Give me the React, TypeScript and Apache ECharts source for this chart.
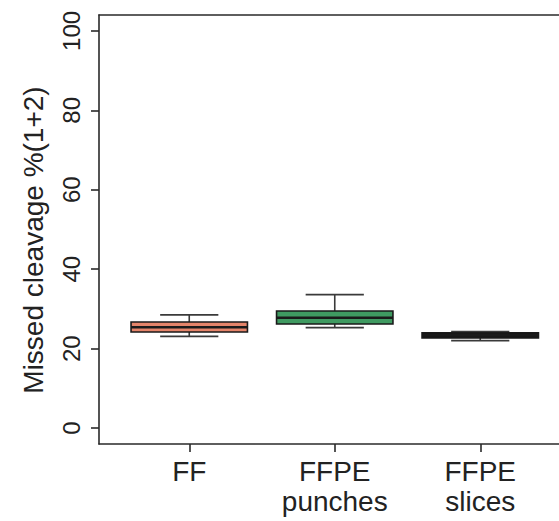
import React, { useEffect, useRef } from "react";
import * as echarts from "echarts";

const categories = ["FF", "FFPE\npunches", "FFPE\nslices"];
// [min, Q1, median, Q3, max]
const boxStats = [
  [23.1, 24.2, 25.4, 26.7, 28.5],
  [25.3, 26.2, 27.8, 29.5, 33.6],
  [22.0, 22.7, 23.4, 24.0, 24.3],
];
const boxColors = ["#E5846A", "#3F9A61", "#151515"];
const yTicks = [0, 20, 40, 60, 80, 100];
const yName = "Missed cleavage %(1+2)";

const FONT = "'Liberation Sans', Arial, Helvetica, sans-serif";
const FRAME = { show: true, onZero: false, lineStyle: { color: "#2a2a2a", width: 1.6 } };

export default function App() {
  const ref = useRef<HTMLDivElement>(null);
  useEffect(() => {
    if (!ref.current) return;
    const chart = echarts.init(ref.current, undefined, { renderer: "svg", width: 559, height: 521 });
    const data = boxStats.map((s, i) => [i, ...s]);
    chart.setOption({
      animation: false,
      backgroundColor: "#ffffff",
      grid: [
        { left: 99, top: 15, width: 471, height: 429, outerBoundsMode: "none", containLabel: false },
        { left: 116.5, top: 15, width: 436.5, height: 429, outerBoundsMode: "none", containLabel: false },
      ],
      xAxis: [
        { type: "value", gridIndex: 0, min: 0, max: 1, axisLine: FRAME, axisTick: { show: false }, axisLabel: { show: false }, splitLine: { show: false } },
        {
          type: "category",
          gridIndex: 1,
          data: categories,
          axisLine: { show: false, onZero: false },
          axisTick: { show: true, alignWithLabel: true, length: 8, lineStyle: { color: "#2a2a2a", width: 1.6 } },
          axisLabel: { color: "#222", fontSize: 28, fontFamily: FONT, margin: 12, lineHeight: 30, interval: 0 },
          splitLine: { show: false },
        },
        { type: "value", gridIndex: 0, position: "top", min: 0, max: 1, axisLine: FRAME, axisTick: { show: false }, axisLabel: { show: false }, splitLine: { show: false } },
      ],
      yAxis: [
        {
          type: "value",
          gridIndex: 0,
          min: -4,
          max: 104,
          axisLine: FRAME,
          axisTick: { show: true, length: 8, customValues: yTicks, lineStyle: { color: "#2a2a2a", width: 1.6 } },
          axisLabel: { customValues: yTicks, rotate: 90, color: "#222", fontSize: 24, fontFamily: FONT, margin: 16 },
          splitLine: { show: false },
        },
        { type: "value", gridIndex: 1, min: -4, max: 104, show: false },
      ],
      graphic: [
        {
          type: "text",
          x: 33,
          y: 240,
          rotation: Math.PI / 2,
          style: { text: yName, fontSize: 28, fontFamily: FONT, fill: "#222", textAlign: "center", textVerticalAlign: "middle" },
        },
      ],
      series: [
        {
          type: "custom",
          xAxisIndex: 1,
          yAxisIndex: 1,
          data,
          encode: { x: 0, y: [1, 2, 3, 4, 5] },
          renderItem: (params: any, api: any) => {
            const x = api.value(0);
            const pMin = api.coord([x, api.value(1)]);
            const pQ1 = api.coord([x, api.value(2)]);
            const pMed = api.coord([x, api.value(3)]);
            const pQ3 = api.coord([x, api.value(4)]);
            const pMax = api.coord([x, api.value(5)]);
            const band = api.size([1, 0])[0];
            const bw = band * 0.8;
            const cap = bw / 2;
            const cx = pMed[0];
            const fill = boxColors[params.dataIndex];
            const lineCol = "#3a3a3a";
            return {
              type: "group",
              children: [
                { type: "line", shape: { x1: cx, y1: pQ3[1], x2: cx, y2: pMax[1] }, style: { stroke: lineCol, lineWidth: 1.6 } },
                { type: "line", shape: { x1: cx, y1: pQ1[1], x2: cx, y2: pMin[1] }, style: { stroke: lineCol, lineWidth: 1.6 } },
                { type: "line", shape: { x1: cx - cap / 2, y1: pMax[1], x2: cx + cap / 2, y2: pMax[1] }, style: { stroke: lineCol, lineWidth: 1.8 } },
                { type: "line", shape: { x1: cx - cap / 2, y1: pMin[1], x2: cx + cap / 2, y2: pMin[1] }, style: { stroke: lineCol, lineWidth: 1.8 } },
                {
                  type: "rect",
                  shape: { x: cx - bw / 2, y: pQ3[1], width: bw, height: pQ1[1] - pQ3[1] },
                  style: { fill, stroke: "#1a1a1a", lineWidth: 1.6 },
                },
                { type: "line", shape: { x1: cx - bw / 2, y1: pMed[1], x2: cx + bw / 2, y2: pMed[1] }, style: { stroke: "#1a1a1a", lineWidth: 2.6 } },
              ],
            };
          },
        },
      ],
    });
    return () => chart.dispose();
  }, []);
  return (
    <div style={{ position: "fixed", left: 0, top: 0, width: 559, height: 521, overflow: "hidden", background: "#fff" }}>
      <div ref={ref} style={{ width: 559, height: 521 }} />
    </div>
  );
}
